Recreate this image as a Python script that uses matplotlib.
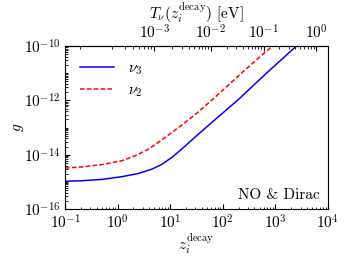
import numpy as np
import matplotlib
matplotlib.use("Agg")
import matplotlib.pyplot as plt
from matplotlib.ticker import LogLocator, NullFormatter

# values (log-log)
z_nu3 = [0.1, 0.21, 0.5, 1.2, 2.5, 4.5, 6.9, 10.7, 16.6, 29.5, 54, 200, 630, 2500]
g_nu3 = [1.05e-15, 1.10e-15, 1.23e-15, 1.55e-15, 2.04e-15, 2.95e-15, 4.4e-15,
         7.9e-15, 1.62e-14, 4.4e-14, 1.23e-13, 1.1e-12, 8.9e-12, 1.0e-10]

z_nu2 = [0.1, 0.21, 0.5, 1.2, 2.14, 3.9, 6.9, 10.7, 16.6, 31.6, 65, 250, 870]
g_nu2 = [3.2e-15, 3.55e-15, 4.3e-15, 6.0e-15, 9.1e-15, 1.62e-14, 3.5e-14,
         6.6e-14, 1.23e-13, 3.3e-13, 1.12e-12, 1.2e-11, 1.0e-10]

T0_eV = 1.68e-4  # neutrino temperature today
T_ticks = [1e-3, 1e-2, 1e-1, 1e0]

plt.rcParams["font.family"] = "serif"
plt.rcParams["font.serif"] = ["cmr10", "DejaVu Serif"]
plt.rcParams["mathtext.fontset"] = "cm"
plt.rcParams["axes.formatter.use_mathtext"] = True
plt.rcParams["font.size"] = 11


def z_to_T(z):
    return T0_eV * (1 + np.asarray(z))


def T_to_z(T):
    return np.maximum(np.asarray(T) / T0_eV - 1, 1e-12)


fig = plt.figure(figsize=(3.46, 2.59), dpi=100)
ax = fig.add_axes([0.188, 0.193, 0.760, 0.629])

ax.plot(z_nu3, g_nu3, color="#0000ff", lw=1.1, label=r"$\nu_3$")
ax.plot(z_nu2, g_nu2, color="#ff0000", lw=1.1, ls="--", dashes=(3, 1.5), label=r"$\nu_2$")

ax.set_xscale("log")
ax.set_yscale("log")
ax.set_xlim(1e-1, 1e4)
ax.set_ylim(1e-16, 1e-10)

ax.set_yticks([1e-16, 1e-14, 1e-12, 1e-10])
ax.yaxis.set_minor_locator(LogLocator(base=10, subs=np.arange(1, 10), numticks=40))
ax.yaxis.set_minor_formatter(NullFormatter())
ax.xaxis.set_minor_locator(LogLocator(base=10, subs=np.arange(2, 10), numticks=40))
ax.xaxis.set_minor_formatter(NullFormatter())

ax.tick_params(which="both", direction="in", top=False, right=False)
ax.tick_params(which="major", length=3.5, width=0.8)
ax.tick_params(which="minor", length=1.8, width=0.6)

ax.set_xlabel(r"$z_i^{\rm decay}$", labelpad=0)
ax.set_ylabel(r"$g$", labelpad=-2)

secax = ax.secondary_xaxis("top", functions=(z_to_T, T_to_z))
secax.set_xticks(T_ticks)
secax.xaxis.set_minor_locator(LogLocator(base=10, subs=np.arange(2, 10), numticks=40))
secax.xaxis.set_minor_formatter(NullFormatter())
secax.tick_params(which="both", direction="in")
secax.tick_params(which="major", length=3.5, width=0.8)
secax.tick_params(which="minor", length=1.8, width=0.6)
secax.set_xlabel(r"$T_\nu(z_i^{\rm decay})$ [eV]", labelpad=3)

ax.legend(loc="upper left", frameon=False, handlelength=2.2, handletextpad=0.9,
          labelspacing=0.45, borderaxespad=0.6)
ax.text(0.97, 0.04, "NO & Dirac", transform=ax.transAxes, ha="right", va="bottom")

fig.savefig("out.png", dpi=100)
